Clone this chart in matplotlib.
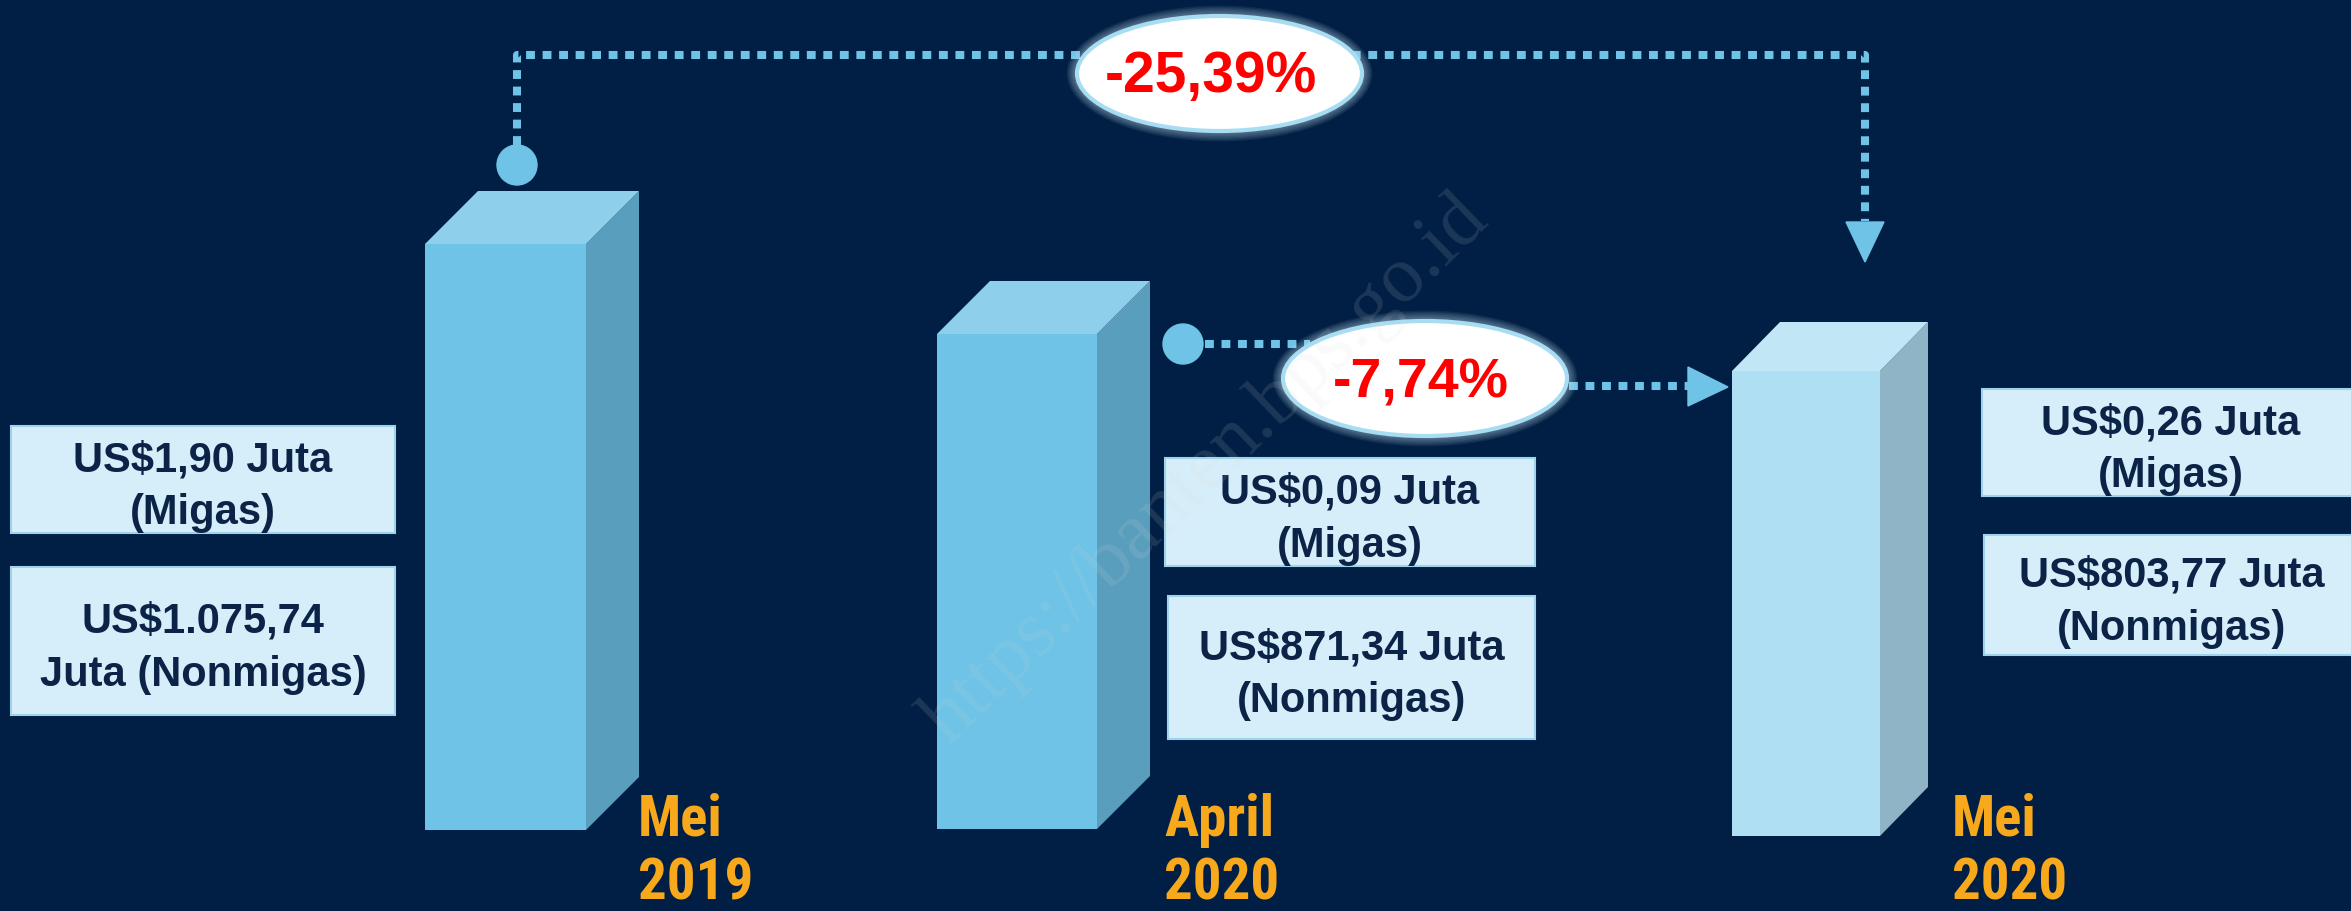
import matplotlib
matplotlib.use("Agg")
import matplotlib.pyplot as plt
from matplotlib import font_manager
from matplotlib.patches import Polygon, Rectangle, Ellipse, Circle

# data
months = ["Mei", "April", "Mei"]
years = ["2019", "2020", "2020"]
migas = ["1,90", "0,09", "0,26"]            # US$ juta
nonmigas = ["1.075,74", "871,34", "803,77"]  # US$ juta
bar_heights = [586, 495, 465]                # drawn heights (px scale of the picture)
changes = ["-25,39%", "-7,74%"]

BG = "#011f44"
NAVY = "#0b2346"
ORANGE = "#f7a81b"
DOT = "#6ec3e6"

# the orange labels use a narrow bold face in the original
installed = {f.name for f in font_manager.fontManager.ttflist}
narrow, lab_fs = "Liberation Sans", 38
for cand in ["Liberation Sans Narrow", "Arial Narrow", "Roboto Condensed",
             "DejaVu Sans Condensed", "Open Sans Condensed"]:
    if cand in installed:
        narrow, lab_fs = cand, 41
        break
SANS = "Liberation Sans"

fig = plt.figure(figsize=(23.51, 9.12), dpi=100)
fig.patch.set_facecolor(BG)
ax = fig.add_axes([0, 0, 1, 1])
ax.set_facecolor(BG)
ax.set_xlim(0, 2351)
ax.set_ylim(912, 0)
ax.axis("off")

# layout of the three bars
bar_left = [425, 937, 1732]
bar_width = [161, 160, 148]
bar_base = [831, 830, 837]
depth = [(53, 53), (53, 53), (48, 49)]
front_c = ["#6ec3e6", "#6ec3e6", "#aedff2"]
side_c = ["#5a9ebd", "#5a9ebd", "#8fb4c6"]
top_c = ["#8ecfec", "#8ecfec", "#c1e6f6"]

bars = ax.bar(bar_left, [-h for h in bar_heights], width=bar_width, bottom=bar_base,
              align="edge", color=front_c, linewidth=0, zorder=2)
for b, (dx, dy), sc, tc in zip(bars, depth, side_c, top_c):
    x0, x1 = b.get_x(), b.get_x() + b.get_width()
    ytop = b.get_y() + b.get_height()
    ybot = b.get_y()
    ax.add_patch(Polygon([(x1, ybot), (x1 + dx, ybot - dy), (x1 + dx, ytop - dy), (x1, ytop)],
                         closed=True, facecolor=sc, edgecolor="none", zorder=2))
    ax.add_patch(Polygon([(x0, ytop), (x0 + dx, ytop - dy), (x1 + dx, ytop - dy), (x1, ytop)],
                         closed=True, facecolor=tc, edgecolor="none", zorder=2))

# category labels
lab_x = [638, 1164, 1952]
for x, m, yr in zip(lab_x, months, years):
    ax.text(x, 836, m, color=ORANGE, fontsize=lab_fs, fontweight="bold", family=narrow,
            ha="left", va="baseline", zorder=3)
    ax.text(x, 900, yr, color=ORANGE, fontsize=lab_fs, fontweight="bold", family=narrow,
            ha="left", va="baseline", zorder=3)

# value boxes
mig_boxes = [(11, 427, 395, 534), (1165, 459, 1535, 567), (1982, 390, 2360, 497)]
non_boxes = [(11, 568, 395, 716), (1168, 597, 1535, 740), (1984, 536, 2360, 656)]
mig_lines = [("US$%s Juta" % v, "(Migas)") for v in migas]
non_lines = [("US$%s" % nonmigas[0], "Juta (Nonmigas)")] + \
            [("US$%s Juta" % v, "(Nonmigas)") for v in nonmigas[1:]]

for (x0, y0, x1, y1), lines in zip(mig_boxes + non_boxes, mig_lines + non_lines):
    ax.add_patch(Rectangle((x0, y0), x1 - x0, y1 - y0, facecolor="#d6eef9",
                           edgecolor="#9fd3ec", linewidth=1.5, zorder=3))
    cx, cy = (x0 + x1) / 2, (y0 + y1) / 2
    ax.text(cx, cy - 9, lines[0], color=NAVY, fontsize=30, fontweight="bold", family=SANS,
            ha="center", va="baseline", zorder=4)
    ax.text(cx, cy + 44, lines[1], color=NAVY, fontsize=30, fontweight="bold", family=SANS,
            ha="center", va="baseline", zorder=4)

# dotted connectors
dot_kw = dict(color=DOT, linewidth=5.8, dashes=(1.1, 0.95), solid_capstyle="butt",
              dash_capstyle="butt", zorder=5)
ax.plot([517, 517, 1865, 1865], [146, 56, 56, 222], **dot_kw)
ax.add_patch(Circle((517, 166), 20, color=DOT, zorder=5))
ax.add_patch(Polygon([(1846, 223), (1884, 223), (1865, 263)], color=DOT, zorder=5))

ax.plot([1205, 1310], [345, 345], **dot_kw)
ax.plot([1569, 1690], [387, 387], **dot_kw)
ax.add_patch(Circle((1183, 345), 20, color=DOT, zorder=5))
ax.add_patch(Polygon([(1688, 368), (1688, 407), (1728, 388)], color=DOT, zorder=5))

# change badges
badges = [((1219.5, 74.5), 285, 115, 1211, 92, 41), ((1425, 379.5), 284, 115, 1421, 398, 40)]
for ((ex, ey), w, h, tx, ty, fs), txt in zip(badges, changes):
    for k in range(8, 0, -1):
        ax.add_patch(Ellipse((ex, ey), w + 2.6 * k, h + 2.6 * k, facecolor="#cfeaf7",
                             edgecolor="none", alpha=0.07, zorder=6))
    ax.add_patch(Ellipse((ex, ey), w, h, facecolor="white", edgecolor="#a7ddf3",
                         linewidth=3, zorder=6))
    ax.text(tx, ty, txt, color="#ff0000", fontsize=fs, fontweight="bold", family=SANS,
            ha="center", va="baseline", zorder=7)

# watermark
ax.text(1206, 470, "https://banten.bps.go.id", color="#d8d8d8", alpha=0.13, fontsize=58,
        family="Liberation Serif", rotation=44, rotation_mode="anchor",
        ha="center", va="center", zorder=8)

fig.savefig("out.png", dpi=100, facecolor=BG)
